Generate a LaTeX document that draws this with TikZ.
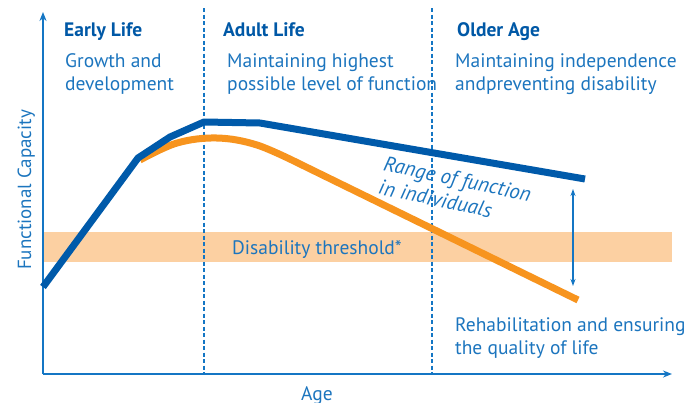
\documentclass[tikz,border=0pt]{standalone}
\usepackage{fontspec}
\setmainfont{PT Sans}
\usepackage{tikz}
\usetikzlibrary{arrows.meta}
\definecolor{axisblue}{RGB}{20,118,196}
\definecolor{lineblue}{RGB}{0,90,170}
\definecolor{textblue}{RGB}{28,117,190}
\definecolor{headblue}{RGB}{0,88,166}
\definecolor{lineorange}{RGB}{247,148,30}
\definecolor{bandorange}{RGB}{252,208,162}
\tikzstyle{head}=[anchor=base west, inner sep=0pt, text=headblue, font=\fontsize{19.5}{23}\selectfont\bfseries]
\tikzstyle{lbl}=[anchor=base west, inner sep=0pt, text=textblue, font=\fontsize{19.5}{23}\selectfont, align=left]
\tikzstyle{axis}=[draw=axisblue, line width=2pt, -{Stealth[length=9pt,width=7pt]}]
\tikzstyle{divider}=[draw=axisblue, line width=1.1pt, dash pattern=on 4pt off 2.5pt]
\tikzstyle{curve}=[line width=7pt, line join=round, line cap=butt]
\begin{document}
\begin{tikzpicture}[x=1pt, y=-1pt]
\useasboundingbox (0,0) rectangle (686,402);
% band and axes
\fill [bandorange] (43,232) rectangle (672,262);
\coordinate (origin) at (43,374);
\coordinate (xend) at (672,374);
\coordinate (yend) at (43,12);
\draw [divider] (204,8) -- (204,374);
\draw [divider] (432,8) -- (432,374);
\draw [axis] (origin) -- (xend);
\draw [axis] (origin) -- (yend);
% curves
\draw [curve, lineorange] plot[smooth, tension=0.6] coordinates {(140,160) (177,143) (217,138) (257,145) (300,164)} -- (578,300);
\draw [curve, lineblue] (43,287) -- (138,158) -- (170,137) -- (204,122) -- (260,123) -- (585,179);
% range arrow
\coordinate (rtop) at (573,189);
\coordinate (rbot) at (573,286);
\draw [axisblue, line width=1.2pt, {Stealth[length=7pt,width=5pt]}-{Stealth[length=7pt,width=5pt]}] (rtop) -- (rbot);
% texts (base of a two line node is its last line)
\node [head] (early) at (64,36) {Early Life};
\node [lbl] (growth) at (65,90) {Growth and\\development};
\node [head] (adult) at (223,36) {Adult Life};
\node [lbl] (maintain) at (227,90) {Maintaining highest\\possible level of function};
\node [head] (older) at (457,36) {Older Age};
\node [lbl] (indep) at (455,90) {Maintaining independence\\andpreventing disability};
\node [lbl] (thresh) at (232,254) {Disability threshold*};
\node [lbl] (rehab) at (455,354) {Rehabilitation and ensuring\\the quality of life};
\node [lbl, anchor=base, font=\fontsize{21}{24}\selectfont\itshape, rotate=-12] (range) at (451,209.5) {Range of function\\in individuals};
\node [lbl, anchor=base] (age) at (317,400) {Age};
\node [lbl, anchor=base, font=\fontsize{19}{22}\selectfont, rotate=90] (fcap) at (31,190) {Functional Capacity};
\end{tikzpicture}
\end{document}
